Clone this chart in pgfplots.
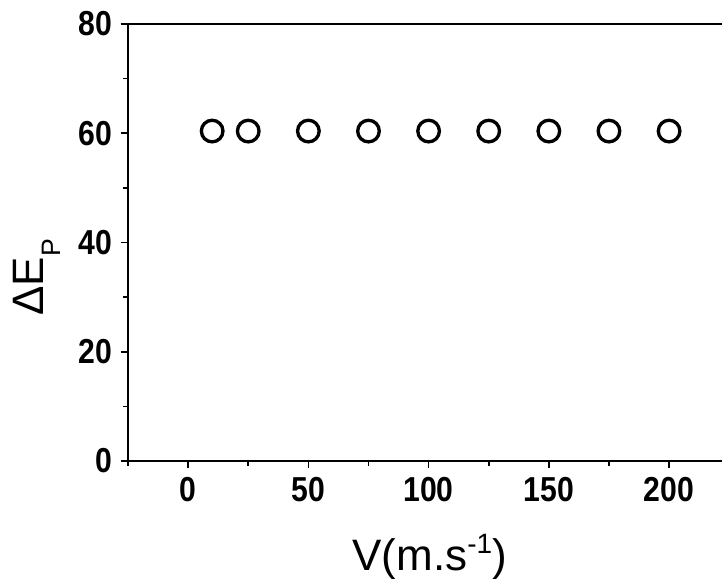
\documentclass[border=0pt]{standalone}
\usepackage{fontspec}
\setmainfont{Liberation Sans}
\newfontfamily\ticklabelfont[FakeStretch=0.87]{Liberation Sans}
\usepackage{pgfplots}
\pgfplotsset{compat=1.18}

% Peak separation against scan rate
\pgfplotstableread{
v    dEp
10   60.4
25   60.4
50   60.4
75   60.4
100  60.4
125  60.4
150  60.4
175  60.4
200  60.4
}\peakdata

\begin{document}
\begin{tikzpicture}
\begin{axis}[
  scale only axis,
  width=445.5pt, height=327.75pt,
  xmin=-25, xmax=222,
  ymin=0, ymax=80,
  axis x line*=bottom,
  axis y line*=left,
  xtick pos=bottom, ytick pos=left,
  tick align=outside,
  xtick={0,50,100,150,200},
  minor xtick={-25,25,75,125,175},
  ytick={0,20,40,60,80},
  minor ytick={10,30,50,70},
  major tick length=5.5pt,
  minor tick length=3.5pt,
  every tick/.style={black, line width=1.2pt},
  axis line style={black, line width=1.3pt},
  /pgf/number format/assume math mode=true,
  tick label style={font=\ticklabelfont\bfseries\fontsize{26}{30}\selectfont},
  xticklabel style={yshift=-3pt},
  yticklabel style={xshift=-3pt},
  xlabel={V(m.s\raisebox{12.75pt}{\fontsize{21}{21}\selectfont -1})},
  ylabel={ΔE\raisebox{-0.38em}{\fontsize{20}{20}\selectfont P}},
  label style={font=\fontsize{33}{38}\selectfont},
  xlabel style={at={(axis description cs:0.508,0)}, anchor=base, yshift=-82pt},
  ylabel style={at={(axis description cs:-0.153,0.42)}, anchor=center},
  clip=false,
]
\addplot[only marks, mark=o, mark size=8.1pt, line width=2.5pt, black]
  table[x=v, y=dEp] {\peakdata};
\draw[black, line width=1.3pt] (rel axis cs:0,1) -- (rel axis cs:1,1);
\end{axis}
\pgfresetboundingbox
\useasboundingbox (current axis.south west) ++(-96pt,-88.5pt) rectangle ([yshift=18pt]current axis.north east);
\end{tikzpicture}
\end{document}
